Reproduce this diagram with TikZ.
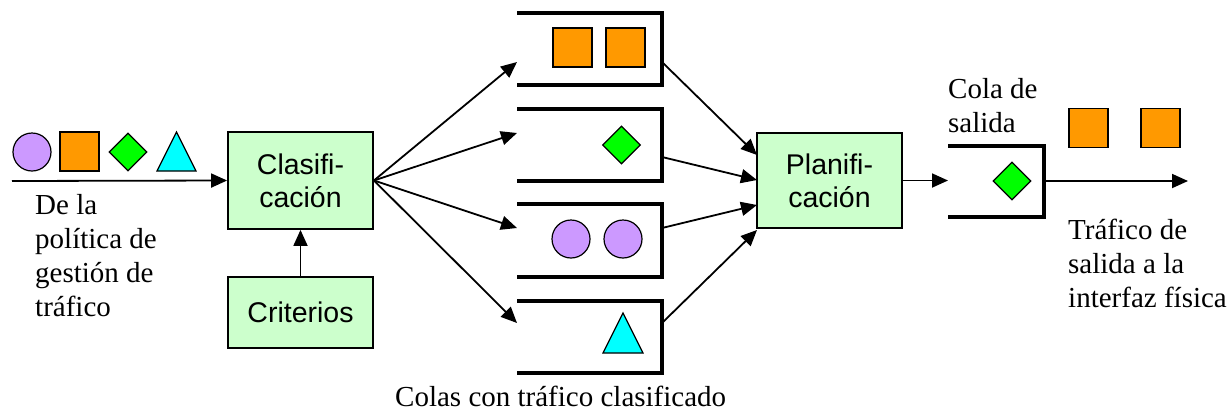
\documentclass[tikz,border=0pt]{standalone}
\usepackage{fontspec}
\setmainfont{Liberation Serif}
\newfontfamily\arialf{Liberation Sans}
\usetikzlibrary{arrows.meta,shapes.geometric}
\definecolor{boxgreen}{HTML}{CCFFCC}
\definecolor{itorange}{HTML}{FF9900}
\definecolor{itpurple}{HTML}{CC99FF}
\definecolor{itgreen}{HTML}{00FF00}
\definecolor{itcyan}{HTML}{00FFFF}
\begin{document}
\begin{tikzpicture}[x=1pt,y=-1pt,
  proc/.style={draw,line width=1.8pt,fill=boxgreen,font=\arialf\fontsize{28.5}{33}\selectfont,
    align=center,inner sep=0pt,minimum width=145pt},
  arr/.style={line width=1.8pt,-{Triangle[length=16pt,width=14pt]}},
  queue/.style={line width=3.2pt,line join=miter},
  lbl/.style={font=\fontsize{29}{34}\selectfont,align=left,inner sep=0pt,anchor=base west},
  itsq/.style={draw,line width=1.2pt,fill=itorange,rectangle,minimum size=39pt,inner sep=0pt},
  itci/.style={draw,line width=1.2pt,fill=itpurple,circle,minimum size=38pt,inner sep=0pt},
  itdi/.style={draw,line width=1.2pt,fill=itgreen,diamond,minimum width=38pt,minimum height=38pt,inner sep=0pt},
  ittri/.style={draw,line width=1.2pt,fill=itcyan,line join=miter}
]
\useasboundingbox (0,0) rectangle (1230,410);

% process boxes
\node[proc,minimum height=97pt] (clasif) at (300.5,180.5) {Clasifi-\\cación};
\node[proc,minimum height=71pt] (crit) at (300.5,312.5) {Criterios};
\node[proc,minimum height=95pt] (plan) at (829.5,180.5) {Planifi-\\cación};

% input
\coordinate (src) at (12,181);
\draw[arr] (src) -- (clasif.west);
\node[itci] (in1) at (32,152) {};
\node[itsq] (in2) at (79.5,151.5) {};
\node[itdi] (in3) at (128,152) {};
\draw[ittri] (157,171) -- (176.5,132) -- (196,171) -- cycle;
\draw[arr] (crit.north) -- (clasif.south);

% queues
\draw[queue] (517,13) -- (662,13) -- (662,85) -- (517,85);
\draw[queue] (517,109) -- (662,109) -- (662,181) -- (517,181);
\draw[queue] (517,204) -- (662,204) -- (662,277) -- (517,277);
\draw[queue] (517,301) -- (662,301) -- (662,373) -- (517,373);

\node[itsq] (q1a) at (572.5,47.5) {};
\node[itsq] (q1b) at (625.5,47.5) {};
\node[itdi] (q2a) at (621.5,145) {};
\node[itci] (q3a) at (571,239) {};
\node[itci] (q3b) at (623,239) {};
\draw[ittri] (603,353) -- (623,313) -- (643,353) -- cycle;

\coordinate (q1in) at (517,62);
\coordinate (q2in) at (517,133);
\coordinate (q3in) at (517,228);
\coordinate (q4in) at (517,323);
\coordinate (q1out) at (662,62);
\coordinate (q2out) at (662,157);
\coordinate (q3out) at (662,228);
\coordinate (q4out) at (662,323);
\coordinate (p1) at (757,155);
\coordinate (p2) at (757,180);
\coordinate (p3) at (757,205);
\coordinate (p4) at (757,230);

\foreach \q in {q1in,q2in,q3in,q4in}
  \draw[arr] (clasif.east) -- (\q);
\draw[arr] (q1out) -- (p1);
\draw[arr] (q2out) -- (p2);
\draw[arr] (q3out) -- (p3);
\draw[arr] (q4out) -- (p4);

% output queue
\coordinate (oqin) at (948,180.5);
\coordinate (oqout) at (1044,181);
\coordinate (sink) at (1188,181);
\draw[arr] (plan.east) -- (oqin);
\draw[queue] (948,146) -- (1044,146) -- (1044,217) -- (948,217);
\node[itdi] (oq1) at (1012,181) {};
\draw[arr] (oqout) -- (sink);
\node[itsq] (out1) at (1088.5,128) {};
\node[itsq] (out2) at (1160.5,128) {};

% labels (anchor = baseline of last line)
\node[lbl] (l1) at (35,316) {De la\\política de\\gestión de\\tráfico};
\node[lbl] (l2) at (948,132) {Cola de\\salida};
\node[lbl] (l3) at (1068,307) {Tráfico de\\salida a la\\interfaz física};
\node[lbl] (l4) at (395,406) {Colas con tráfico clasificado};
\end{tikzpicture}
\end{document}
